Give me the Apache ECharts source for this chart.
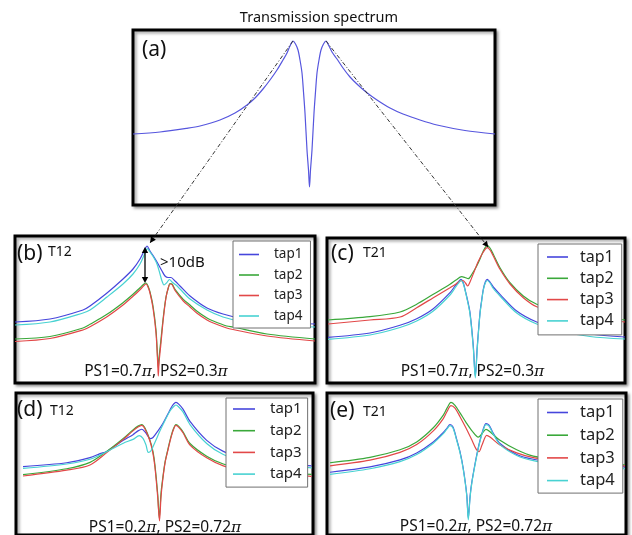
<!DOCTYPE html>
<html>
<head>
<meta charset="utf-8">
<script src="https://cdn.jsdelivr.net/npm/echarts@6/dist/echarts.min.js"></script>
<style>
html, body { margin: 0; padding: 0; background: #fff; }
#main { width: 632px; height: 535px; }
</style>
</head>
<body>
<div id="main"></div>
<script>
// x = position across the panel, y = loss below the panel top (both)
var tapNames = ['tap1', 'tap2', 'tap3', 'tap4'];
var tapColors = ['#4646dc', '#3aa83a', '#e24848', '#48d2d2'];

// (a) transmission spectrum
var aSpec = [[0,104],[27,102],[54,98.3],[67,96],[87,90],[102,83],[114,75],[122,68],[130,59],[137,50],[144,40],[150,30],
  [154,23],[157,16],[160,11],[162.5,14],[165,20],[167,30],[169,43],[170.5,62],[172,83],[174,120],[175.5,140],[176.5,157],
  [177.5,140],[179,120],[181,83],[182.5,62],[184,43],[186,30],[188,20],[190.5,14],[193,11],[196,16],[199,22],[204,29],
  [210,38],[217,47],[225,55],[233,62],[244,70],[257,78],[270,84],[287,90],[304,95],[332,100.5],[362,104]];

// (b) T12, PS1=0.7pi, PS2=0.3pi
var bTap1 = [[0,86],[35,83],[68,74],[75,70],[92,57],[108,43],[118,33],[125,23],[130,13],[132,10],[135,15],[139,21],
  [142,26],[147,35],[150,40],[153,41.5],[156,41.5],[160,45],[165,50],[175,60],[192,72],[208,78],[225,82],[255,86],[300,88]];
var bTap2 = [[0,103],[35,100.5],[68,92],[75,88.3],[92,78.3],[108,66.7],[118,58.3],[125,51.7],[129,48],[131,47],[133,50],
  [135,56],[138,70],[141,94],[142.5,120],[143.3,132],[144.2,120],[145.7,106],[148.3,81],[151,61],[153.3,52],[155,47.5],
  [157,48],[160,53.3],[168.3,63.3],[175,69],[181.7,75],[192,82],[198.3,85],[211.7,90],[218,91],[252,98],[300,103]];
var bTap3 = [[0,105.5],[35,102.5],[68,94],[75,90.7],[92,80.7],[108,69],[118,60.3],[125,53.7],[129,49.5],[131,48],[133,51],
  [135,57],[138,72],[141,97],[142.7,127],[143.3,140],[144,127],[145.7,110],[148.3,83],[151,61.7],[153.3,51.7],[155,48],
  [157,48.5],[160,54.5],[168.3,65],[175,71],[181.7,77],[192,84],[198.3,87],[211.7,92],[218,93.5],[252,100],[300,105]];
var bTap4 = [[0,89],[35,86],[68,77],[75,74],[92,61],[108,48],[118,38],[125,28],[130,17],[132.3,12.7],[135,16],[139,22],
  [142,28],[145,38],[147,45],[149,49],[151.5,47],[154.5,43.5],[157,46],[161,49],[165,53],[175,63],[192,74],[208,81],
  [225,85],[255,89],[300,91]];

// (c) T21, PS1=0.7pi, PS2=0.3pi
var cTap1 = [[1,99.3],[43,95],[73,87.3],[89.7,80.7],[106.3,70.7],[123,54.7],[128,48],[131.3,44],[134,41.3],[136,44],
  [138,51.3],[140.5,62],[143,74.7],[146.3,108],[148.3,138],[150.3,108],[153,74.7],[154.7,62],[156.3,51.3],[158.3,44],
  [160.3,41.3],[163,44],[166.3,49],[173,56.3],[189.7,73],[209.7,84],[233,91],[263,96],[298,99]];
var cTap2 = [[1,82],[43,78.7],[73,74],[89.7,66.3],[106.3,56.3],[123,46.3],[129,42],[134.7,38.7],[138,39.5],[141.3,40.7],
  [145,36],[149.7,28],[153,21],[156.3,13],[160.3,7.3],[163,10],[166.3,16.3],[173,29.7],[183,44.7],[196.3,58],
  [209.7,66.3],[233,73],[263,78],[298,82]];
var cTap3 = [[1,86],[43,82],[73,79],[89.7,69.7],[106.3,59.7],[123,49.7],[129,46],[133,43],[136,42.5],[138.5,45],
  [140.7,48],[143,44],[147,34],[151,24],[156.3,14],[160.3,9.7],[163,12],[166.3,18],[173,31.3],[183,46],[196.3,59.7],
  [209.7,68.7],[233,75],[263,80],[298,84]];
var cTap4 = [[1,101.3],[43,97],[73,89.5],[89.7,83],[106.3,73],[123,57],[128,50],[131.3,45.5],[134,42.5],[136,45],
  [138,52],[140.5,63],[143,76],[146.3,110],[148.3,140],[150.3,110],[153,76],[154.7,63],[156.3,52],[158.3,45],
  [160.3,42.5],[163,45],[166.3,50.5],[173,58],[189.7,75],[209.7,86],[233,93],[263,98.5],[298,101]];

// (d) T12, PS1=0.2pi, PS2=0.72pi
var dTap1 = [[7,77.7],[50.7,73.7],[74,68.3],[84,64],[90.7,61.7],[107.3,50],[117,44],[122,40],[125.7,38.3],[129,41],
  [132,45.5],[134,48.3],[137,47],[142,40],[147,32],[152,22],[156,14],[160,10],[163,12],[167,17],[174,30],[190.7,50],
  [207.3,61.7],[224,67],[254,73],[295.7,77]];
var dTap2 = [[7,86.3],[50.7,80],[74,73.3],[90.7,61.7],[107.3,48],[117,39],[122,35],[125.7,33.3],[129,37],[134,50],
  [137,62],[139,76.7],[141.7,106.7],[143.3,132],[145,106],[146.5,92],[149,73.3],[152,59],[154,50],[157,39],[160,33.3],
  [163,35.5],[167,41],[174,53.3],[190.7,66.7],[207.3,75],[224,79],[254,83],[295.7,86]];
var dTap3 = [[7,87.7],[50.7,81.5],[74,76],[90.7,63],[107.3,49],[117,40],[122,36],[125.7,34.3],[129,38],[134,51],
  [137,64],[139,79],[141.7,110],[143.5,135],[145,110],[146.5,94],[149,74],[152,60],[154,51],[157,40],[160,34.3],
  [163,36.5],[167,42],[174,55],[190.7,68.5],[207.3,77],[224,81],[254,85],[295.7,88]];
var dTap4 = [[7,79.7],[50.7,75],[74,70],[90.7,62],[107.3,53],[117,49],[123.3,45],[127,48],[130,55],[132.3,62.7],
  [135,61],[139,52],[144,40],[149,29],[154,19],[157,15],[160,12.7],[163,15],[167,20],[174,33.3],[190.7,53.3],
  [207.3,65],[224,70],[254,75],[295.7,79]];

// (e) T21, PS1=0.2pi, PS2=0.72pi
var eTap1 = [[3,83.7],[43,78],[73,70.7],[89.7,63.3],[106.3,51.7],[116.3,41.7],[120,37],[123,33.3],[126,36],[129.7,49],
  [133,62],[136.3,80],[139.7,107],[141.3,132],[143,110],[144.7,95],[148,75],[151,59],[153,50],[156,39],[159,32.3],
  [162,34],[166,42],[173,53.3],[189.7,65],[206.3,70],[233,74],[263,76.5],[298,78]];
var eTap2 = [[3,73.7],[43,68],[73,60],[89.7,51.7],[106.3,36.7],[116.3,23.3],[120,16],[124,10],[128,13],[133,21],
  [139,31],[145,40],[151.3,46.7],[155,43],[159,38.5],[163,41],[173,50],[189.7,60],[206.3,66.7],[233,71],[263,74],[298,76]];
var eTap3 = [[3,77],[43,71],[73,62.7],[89.7,54.5],[106.3,40],[116.3,27],[120,19.5],[124,13.3],[128,16],[133,25],
  [139,37],[145,50],[149,59],[152,62],[155,55],[159.7,44.7],[163,46.5],[173,55],[189.7,63.3],[206.3,68.3],[233,72],
  [263,75],[298,77]];
var eTap4 = [[3,86],[43,80],[73,72.5],[89.7,65],[106.3,53],[116.3,43],[120,38],[123,34.5],[126,37],[129.7,50],
  [133,63],[136.3,81],[139.7,108],[141.3,134],[143,111],[144.7,96],[148,76],[151,60],[153,51],[156,40],[159,33.5],
  [162,35],[166,43],[173,54.5],[189.7,66],[206.3,71.5],[233,76],[263,78.5],[298,80]];

var panelTaps = [null, [bTap1, bTap2, bTap3, bTap4], [cTap1, cTap2, cTap3, cTap4],
  [dTap1, dTap2, dTap3, dTap4], [eTap1, eTap2, eTap3, eTap4]];

// panel boxes: left, top, width, height (px)
var boxes = [[133, 30, 362, 175], [15, 236, 300, 147], [327, 238, 298, 145], [16, 393, 297, 150], [327, 393, 299, 150]];

var FONT = "'Noto Sans', sans-serif";
var chart = echarts.init(document.getElementById('main'));

var grids = [], xAxes = [], yAxes = [], series = [];
boxes.forEach(function (b, i) {
  grids.push({
    left: b[0], top: b[1], width: b[2], height: b[3], show: true,
    backgroundColor: '#fff', borderColor: '#000', borderWidth: 3,
    shadowColor: 'rgba(0,0,0,0.35)', shadowBlur: 3, shadowOffsetX: 2, shadowOffsetY: 2
  });
  xAxes.push({ type: 'value', gridIndex: i, min: 0, max: b[2], show: false });
  yAxes.push({ type: 'value', gridIndex: i, min: 0, max: b[3], inverse: true, show: false });
});

series.push({
  type: 'line', name: 'spectrum', data: aSpec, xAxisIndex: 0, yAxisIndex: 0,
  symbol: 'none', smooth: 0.3, lineStyle: { width: 1.2, color: '#5656de' }, animation: false
});
for (var p = 1; p < 5; p++) {
  panelTaps[p].forEach(function (d, k) {
    series.push({
      type: 'line', name: tapNames[k], data: d, xAxisIndex: p, yAxisIndex: p,
      symbol: 'none', smooth: 0.3, color: tapColors[k],
      lineStyle: { width: 1.2, color: tapColors[k] }, animation: false
    });
  });
}

function legendAt(left, top, pad, fs, rowH, gap, iw, tpad) {
  return {
    data: tapNames, orient: 'vertical', left: left, top: top, padding: pad,
    icon: 'rect', itemWidth: iw, itemHeight: 1.6, itemGap: gap, selectedMode: false,
    backgroundColor: '#fff', borderColor: '#707070', borderWidth: 1, borderRadius: 0,
    textStyle: { fontFamily: FONT, fontSize: fs, color: '#222', lineHeight: rowH, padding: [0, 0, 0, tpad] }
  };
}

chart.setOption({
  animation: false,
  grid: grids, xAxis: xAxes, yAxis: yAxes, series: series,
  legend: [
    legendAt(233, 241, [6.5, 8, 5, 6], 13.5, 13, 6.5, 20, 10),
    legendAt(538, 244, [5, 8, 6, 9], 16, 16, 5.3, 21, 7),
    legendAt(226, 398, [3.5, 6, 5.5, 7], 15, 15, 6.7, 22, 10),
    legendAt(538, 399, [5, 8, 4, 9], 16.5, 16, 5.7, 21, 7)
  ]
});

// annotations placed from the data through the grids' scales
function px(g, pt) { return chart.convertToPixel({ gridIndex: g }, pt); }
function minPoint(d, lo, hi) {
  var best = null;
  d.forEach(function (q) { if (q[0] >= lo && q[0] <= hi && (!best || q[1] < best[1])) best = q; });
  return best;
}
function arrowHead(tip, from, len, half) {
  var dx = tip[0] - from[0], dy = tip[1] - from[1], L = Math.sqrt(dx * dx + dy * dy);
  dx /= L; dy /= L;
  return {
    type: 'polygon', z: 100,
    shape: { points: [tip, [tip[0] - dx * len - dy * half, tip[1] - dy * len + dx * half],
      [tip[0] - dx * len + dy * half, tip[1] - dy * len - dx * half]] },
    style: { fill: '#000' }
  };
}
function dashLine(a, b) {
  return { type: 'line', z: 100, shape: { x1: a[0], y1: a[1], x2: b[0], y2: b[1] },
    style: { stroke: '#333', lineWidth: 1, lineDash: [4, 2, 1, 2] } };
}
function txt(t, x, y, fs, align, rich) {
  var s = { text: t, x: x, y: y, font: fs + 'px ' + FONT, fill: '#111', align: align || 'left', verticalAlign: 'middle' };
  if (rich) s.rich = rich;
  return { type: 'text', z: 100, style: s };
}

var aL = px(0, minPoint(aSpec, 0, 176));
var aR = px(0, minPoint(aSpec, 177, 362));
var bTop = px(1, minPoint(bTap1, 0, 300));
var bBot = px(1, minPoint(bTap2, 0, 142));
var cTop = px(2, minPoint(cTap2, 0, 298));
var bEnd = [bTop[0] + 3, bTop[1] - 3];
var cEnd = [cTop[0] + 1, cTop[1] + 2];
var ax = bTop[0] - 2;
var arTop = [ax, bTop[1] + 1], arBot = [ax, bBot[1]];

var piRich = function (fs) { return { p: { fontFamily: 'DejaVu Serif', fontStyle: 'italic', fontSize: fs, fill: '#111' } }; };

chart.setOption({
  graphic: [
    dashLine(aL, bEnd), arrowHead(bEnd, aL, 6, 3),
    dashLine(aR, cEnd), arrowHead(cEnd, aR, 6, 3),
    { type: 'line', z: 100, shape: { x1: ax, y1: arTop[1] + 4, x2: ax, y2: arBot[1] - 4 },
      style: { stroke: '#000', lineWidth: 1.3 } },
    arrowHead(arTop, arBot, 6, 3.2), arrowHead(arBot, arTop, 6, 3.2),
    txt('Transmission spectrum', 319, 18, 14.5, 'center'),
    txt('(a)', 142, 50, 21),
    txt('(b)', 17, 254, 21), txt('T12', 48, 252, 14),
    txt('>10dB', 160, 263, 15),
    txt('PS1=0.7{p|π}, PS2=0.3{p|π}', 156, 372, 15.5, 'center', piRich(15.5)),
    txt('(c)', 331, 254, 21), txt('T21', 363, 253, 14),
    txt('PS1=0.7{p|π}, PS2=0.3{p|π}', 472.5, 372, 15.5, 'center', piRich(15.5)),
    txt('(d)', 17, 410, 21), txt('T12', 50, 411, 14),
    txt('PS1=0.2{p|π}, PS2=0.72{p|π}', 165, 528, 15.5, 'center', piRich(15.5)),
    txt('(e)', 330, 411, 21), txt('T21', 363, 412, 14),
    txt('PS1=0.2{p|π}, PS2=0.72{p|π}', 476, 527, 15.5, 'center', piRich(15.5))
  ]
});
</script>
</body>
</html>
